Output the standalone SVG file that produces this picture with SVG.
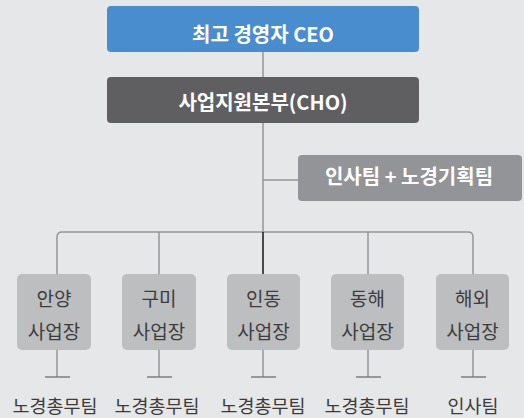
<svg xmlns="http://www.w3.org/2000/svg" width="524" height="418" viewBox="0 0 524 418">
<style>
.bg{fill:#e6e7e9}
.ln{stroke:#959698;stroke-width:1.5;fill:none}
.tbar{stroke:#7d7e80;stroke-width:1.5;fill:none}
.dark{stroke:#222;stroke-width:1.6;fill:none}
.hd{font-family:"Noto Sans CJK KR","Liberation Sans",sans-serif;font-weight:bold;font-size:20px;fill:#fff;text-anchor:middle}
.site{fill:#bdbec0}
.st{font-family:"Noto Sans CJK KR","Liberation Sans",sans-serif;font-size:19px;fill:#3c3c3c;text-anchor:middle}
.lb{font-family:"Noto Sans CJK KR","Liberation Sans",sans-serif;font-size:18.5px;fill:#3c3c3c;text-anchor:middle}
</style>
<rect class="bg" x="0" y="0" width="524" height="418"/>
<g id="connectors">
<line class="ln" x1="263" y1="52" x2="263" y2="77"/>
<line class="ln" x1="263" y1="123" x2="263" y2="232"/>
<line class="ln" x1="263" y1="180" x2="298" y2="180"/>
<path class="ln" d="M57,274 V237 Q57,232 62,232 H468 Q473,232 473,237 V274"/>
<line class="ln" x1="159" y1="232" x2="159" y2="274"/>
<line class="dark" x1="263" y1="232" x2="263" y2="274"/>
<line class="ln" x1="368" y1="232" x2="368" y2="274"/>
<line class="ln" x1="57" y1="350" x2="57" y2="377"/>
<line class="tbar" x1="45" y1="377" x2="70" y2="377"/>
<line class="ln" x1="159" y1="350" x2="159" y2="377"/>
<line class="tbar" x1="147" y1="377" x2="172" y2="377"/>
<line class="ln" x1="263" y1="350" x2="263" y2="377"/>
<line class="tbar" x1="251" y1="377" x2="276" y2="377"/>
<line class="ln" x1="368" y1="350" x2="368" y2="377"/>
<line class="tbar" x1="356" y1="377" x2="381" y2="377"/>
<line class="ln" x1="473" y1="350" x2="473" y2="377"/>
<line class="tbar" x1="461" y1="377" x2="486" y2="377"/>
</g>
<g id="ceo">
<rect x="107" y="6" width="312" height="46" rx="4" fill="#4a8dcf"/>
<text class="hd" x="263" y="41.5">최고 경영자 CEO</text>
</g>
<g id="cho">
<rect x="107" y="77" width="312" height="46" rx="4" fill="#5f5f61"/>
<text class="hd" x="263" y="109.5">사업지원본부(CHO)</text>
</g>
<g id="hr">
<rect x="298" y="155" width="224" height="46" rx="4" fill="#939497"/>
<text class="hd" x="409" y="184">인사팀 + 노경기획팀</text>
</g>
<g id="anyang">
<rect class="site" x="17" y="274" width="74" height="76" rx="5"/>
<text class="st" x="54" y="305.5">안양</text>
<text class="st" x="54" y="338.5">사업장</text>
</g>
<g id="gumi">
<rect class="site" x="122" y="274" width="74" height="76" rx="5"/>
<text class="st" x="159" y="305.5">구미</text>
<text class="st" x="159" y="338.5">사업장</text>
</g>
<g id="indong">
<rect class="site" x="227" y="274" width="73" height="76" rx="5"/>
<text class="st" x="263.5" y="305.5">인동</text>
<text class="st" x="263.5" y="338.5">사업장</text>
</g>
<g id="donghae">
<rect class="site" x="331" y="274" width="73" height="76" rx="5"/>
<text class="st" x="367.5" y="305.5">동해</text>
<text class="st" x="367.5" y="338.5">사업장</text>
</g>
<g id="overseas">
<rect class="site" x="436" y="274" width="73" height="76" rx="5"/>
<text class="st" x="472.5" y="305.5">해외</text>
<text class="st" x="472.5" y="338.5">사업장</text>
</g>
<g id="labels">
<text class="lb" x="55" y="413">노경총무팀</text>
<text class="lb" x="157" y="413">노경총무팀</text>
<text class="lb" x="263" y="413">노경총무팀</text>
<text class="lb" x="367" y="413">노경총무팀</text>
<text class="lb" x="473" y="413">인사팀</text>
</g>
</svg>
